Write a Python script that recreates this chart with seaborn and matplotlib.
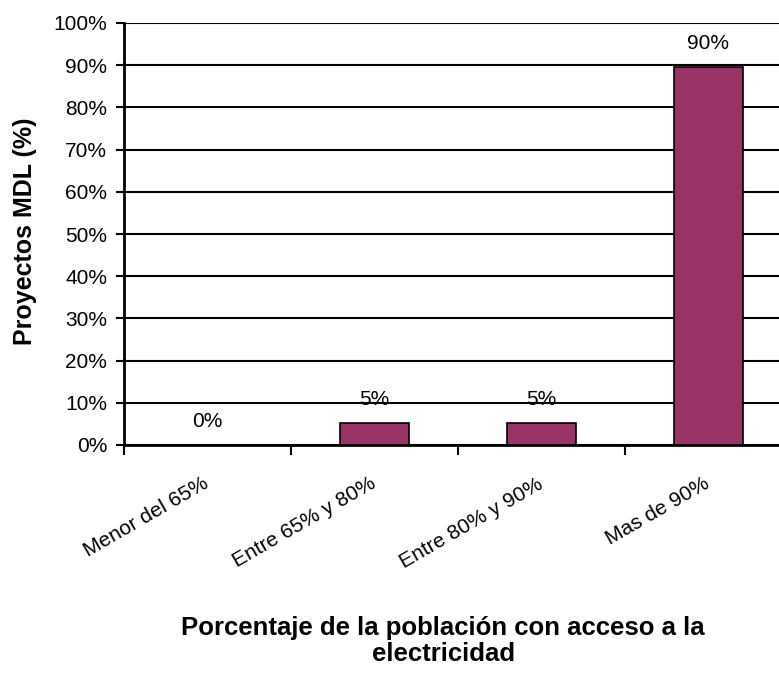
import pandas as pd
import seaborn as sns
import matplotlib.pyplot as plt
from matplotlib.transforms import ScaledTranslation

categorias = ['Menor del 65%', 'Entre 65% y 80%', 'Entre 80% y 90%', 'Mas de 90%']
proyectos = [0.0, 5.3, 5.3, 89.5]
etiquetas = ['0%', '5%', '5%', '90%']
yticks = list(range(0, 101, 10))

data = pd.DataFrame({'cat': categorias, 'val': proyectos})

sns.set_style('white')
plt.rcParams['font.family'] = ['Liberation Sans', 'DejaVu Sans']
plt.rcParams['text.color'] = 'black'
plt.rcParams['xtick.color'] = 'black'
plt.rcParams['ytick.color'] = 'black'
plt.rcParams['axes.labelcolor'] = 'black'

fig = plt.figure(figsize=(7.79, 6.77), dpi=100)
ax = fig.add_axes([124 / 779, 1 - 445 / 677, (792 - 124) / 779, (445 - 23) / 677])

sns.barplot(data=data, x='cat', y='val', color='#993366', saturation=1,
            edgecolor='black', linewidth=1.2, width=0.41, ax=ax, zorder=3)

# value labels
for i, (v, t) in enumerate(zip(proyectos, etiquetas)):
    ax.annotate(t, (i, v), xytext=(0, 10), textcoords='offset points',
                ha='center', va='bottom', fontsize=15)

ax.set_ylim(0, 100)
ax.set_xlim(-0.5, 3.5)
ax.set_yticks(yticks)
ax.set_yticklabels([f'{t}%' for t in yticks], fontsize=15)
ax.yaxis.grid(True, color='black', linewidth=1.5, zorder=0)
ax.set_axisbelow(True)

# x ticks at the category boundaries, labels at the centres
ax.set_xticks([-0.5, 0.5, 1.5, 2.5], minor=False)
ax.set_xticklabels([])
ax.set_xticks([0, 1, 2, 3], minor=True)
ax.set_xticklabels(categorias, minor=True, rotation=30, ha='right',
                   rotation_mode='anchor', fontsize=15)
ax.tick_params(axis='x', which='major', direction='out', length=7, width=1.5, bottom=True)
ax.tick_params(axis='x', which='minor', length=0, pad=21)
ax.tick_params(axis='y', direction='out', length=6, width=1.5, left=True, pad=6)
for lab in ax.get_xticklabels(minor=True):
    lab.set_transform(lab.get_transform() + ScaledTranslation(-0.05, 0, fig.dpi_scale_trans))

for s in ['top', 'right']:
    ax.spines[s].set_visible(False)
for s in ['left', 'bottom']:
    ax.spines[s].set_color('black')
    ax.spines[s].set_linewidth(2)

ax.set_ylabel('Proyectos MDL (%)', fontsize=18, fontweight='bold')
ax.yaxis.set_label_coords(-0.13, 0.507)
ax.set_xlabel('Porcentaje de la población con acceso a la\nelectricidad',
              fontsize=18.5, fontweight='bold', linespacing=1.1)
ax.xaxis.set_label_coords(0.478, -0.405)

fig.savefig('out.png', dpi=100)
